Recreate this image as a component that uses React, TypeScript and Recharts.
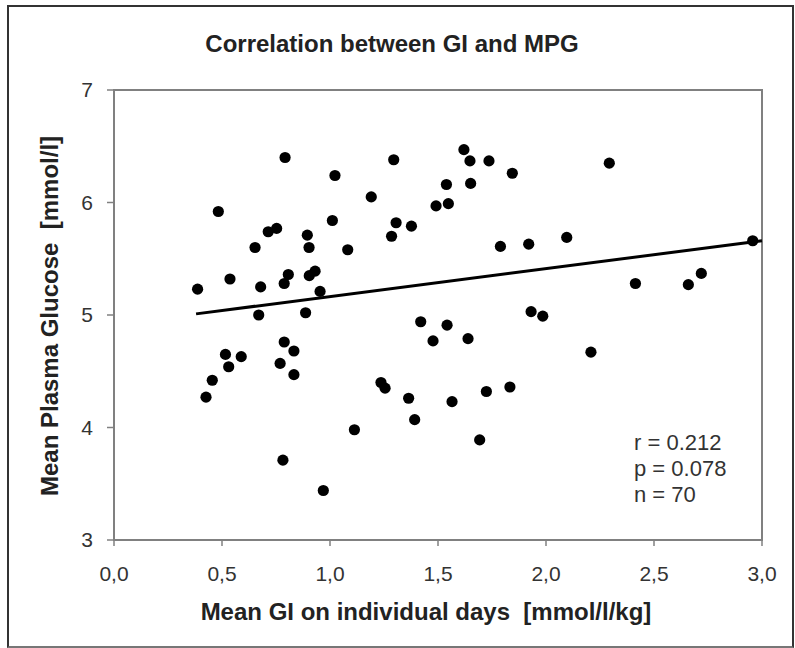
import React from "react";
import {
  ScatterChart,
  Scatter,
  XAxis,
  YAxis,
  ReferenceArea,
  ReferenceLine,
} from "recharts";

// mean GI on individual days [mmol/l/kg]
const GI = [
  0.387, 0.426, 0.455, 0.483, 0.516, 0.531, 0.537, 0.589, 0.653, 0.67,
  0.679, 0.714, 0.753, 0.769, 0.782, 0.788, 0.788, 0.792, 0.807, 0.833,
  0.833, 0.887, 0.895, 0.903, 0.904, 0.931, 0.954, 0.969, 1.011, 1.023,
  1.082, 1.113, 1.191, 1.236, 1.255, 1.285, 1.295, 1.306, 1.364, 1.377,
  1.392, 1.42, 1.477, 1.491, 1.539, 1.542, 1.548, 1.565, 1.62, 1.639,
  1.648, 1.651, 1.693, 1.724, 1.736, 1.789, 1.833, 1.844, 1.92, 1.931,
  1.985, 2.096, 2.208, 2.293, 2.414, 2.659, 2.719, 2.957,
];

// mean plasma glucose [mmol/l]
const MPG = [
  5.23, 4.27, 4.42, 5.92, 4.65, 4.54, 5.32, 4.63, 5.6, 5.0,
  5.25, 5.74, 5.77, 4.57, 3.71, 5.28, 4.76, 6.4, 5.36, 4.68,
  4.47, 5.02, 5.71, 5.6, 5.35, 5.39, 5.21, 3.44, 5.84, 6.24,
  5.58, 3.98, 6.05, 4.4, 4.35, 5.7, 6.38, 5.82, 4.26, 5.79,
  4.07, 4.94, 4.77, 5.97, 6.16, 4.91, 5.99, 4.23, 6.47, 4.79,
  6.37, 6.17, 3.89, 4.32, 6.37, 5.61, 4.36, 6.26, 5.63, 5.03,
  4.99, 5.69, 4.67, 6.35, 5.28, 5.27, 5.37, 5.66,
];

// regression line end points
const TREND_GI = [0.38, 3.0];
const TREND_MPG = [5.01, 5.66];

const X_TICKS = [0, 0.5, 1, 1.5, 2, 2.5, 3];
const Y_TICKS = [3, 4, 5, 6, 7];

const STATS = ["r = 0.212", "p = 0.078", "n = 70"];

const FONT = '"Liberation Sans", Arial, sans-serif';
const AXIS = "#808080";

const points = GI.map((x, i) => ({ x, y: MPG[i] }));
const trend = TREND_GI.map((x, i) => ({ x, y: TREND_MPG[i] }));

const Dot = (props: any) => (
  <circle cx={props.cx} cy={props.cy} r={5.6} fill="#000" />
);

export default function App() {
  return (
    <div
      style={{
        position: "absolute",
        left: 0,
        top: 0,
        width: 795,
        height: 648,
        fontFamily: FONT,
        background: "#fff",
      }}
    >
      <div
        style={{
          position: "absolute",
          left: 7,
          top: 5,
          width: 783,
          height: 639,
          border: "2px solid #333",
          borderBottomColor: "#777",
        }}
      />
      <ScatterChart
        width={795}
        height={648}
        margin={{ top: 90, right: 33, bottom: 0, left: 14 }}
        style={{ position: "absolute", left: 0, top: 0 }}
      >
        <XAxis
          type="number"
          dataKey="x"
          domain={[0, 3]}
          ticks={X_TICKS}
          tickFormatter={(v: number) => v.toFixed(1).replace(".", ",")}
          height={108}
          tickSize={6}
          tickMargin={20}
          axisLine={{ stroke: AXIS, strokeWidth: 2 }}
          tickLine={{ stroke: AXIS, strokeWidth: 1.5 }}
          tick={{ fill: "#333", fontSize: 21, fontFamily: FONT }}
          interval={0}
        />
        <YAxis
          type="number"
          dataKey="y"
          domain={[3, 7]}
          ticks={Y_TICKS}
          width={100}
          tickSize={7}
          tickMargin={14}
          axisLine={{ stroke: AXIS, strokeWidth: 2 }}
          tickLine={{ stroke: AXIS, strokeWidth: 1.5 }}
          tick={{ fill: "#333", fontSize: 21, fontFamily: FONT }}
          interval={0}
        />
        <ReferenceArea
          x1={0}
          x2={3}
          y1={3}
          y2={7}
          fill="none"
          stroke={AXIS}
          strokeWidth={2}
        />
        <Scatter
          data={points}
          shape={Dot}
          isAnimationActive={false}
        />
        <ReferenceLine
          segment={trend}
          stroke="#000"
          strokeWidth={3}
          ifOverflow="extendDomain"
        />
      </ScatterChart>
      <div
        style={{
          position: "absolute",
          left: 0,
          width: 784,
          top: 30,
          lineHeight: "28px",
          textAlign: "center",
          fontSize: 24,
          fontWeight: "bold",
          color: "#222",
        }}
      >
        Correlation between GI and MPG
      </div>
      <div
        style={{
          position: "absolute",
          left: 176,
          width: 500,
          top: 598,
          lineHeight: "28px",
          textAlign: "center",
          fontSize: 24,
          fontWeight: "bold",
          color: "#222",
          whiteSpace: "pre",
        }}
      >
        {"Mean GI on individual days  [mmol/l/kg]"}
      </div>
      <div
        style={{
          position: "absolute",
          left: 50,
          top: 316,
          transform: "translate(-50%, -50%) rotate(-90deg)",
          lineHeight: "28px",
          fontSize: 24,
          fontWeight: "bold",
          color: "#222",
          whiteSpace: "pre",
        }}
      >
        {"Mean Plasma Glucose  [mmol/l]"}
      </div>
      <div
        style={{
          position: "absolute",
          left: 634,
          top: 430,
          lineHeight: "26px",
          fontSize: 22,
          color: "#333",
        }}
      >
        {STATS.map((s) => (
          <div key={s}>{s}</div>
        ))}
      </div>
    </div>
  );
}
